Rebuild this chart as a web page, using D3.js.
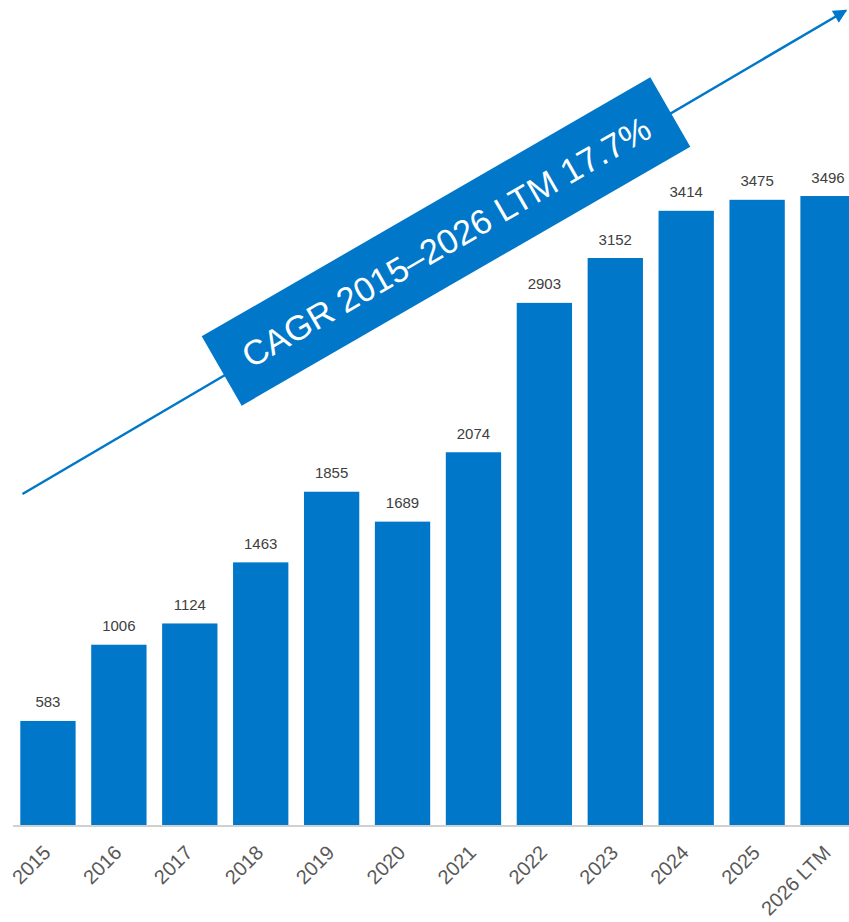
<!DOCTYPE html>
<html>
<head>
<meta charset="utf-8">
<script src="https://cdn.jsdelivr.net/npm/d3@7"></script>
<style>
  html, body { margin: 0; padding: 0; background: #ffffff; overflow: hidden; }
  svg { display: block; }
</style>
</head>
<body>
<svg id="chart" width="849" height="922"></svg>
<script>
const categories = ["2015","2016","2017","2018","2019","2020","2021","2022","2023","2024","2025","2026 LTM"];
const values = [583, 1006, 1124, 1463, 1855, 1689, 2074, 2903, 3152, 3414, 3475, 3496];
const annotationText = "CAGR 2015\u20132026 LTM 17.7%";

const BLUE = "#0077C8";
const FONT = "'Liberation Sans', Arial, sans-serif";
const svg = d3.select("#chart");
const W = 849, H = 922;

const x = d3.scaleBand().domain(categories).range([12.5, 863.5]).paddingInner(0.22).paddingOuter(0.11);
const y = d3.scaleLinear().domain([0, 3500]).range([826, 195.3]);

// bars
svg.append("g").selectAll("rect").data(categories).join("rect")
  .attr("x", d => x(d))
  .attr("y", (d, i) => y(values[i]))
  .attr("width", x.bandwidth())
  .attr("height", (d, i) => y(0) - y(values[i]))
  .attr("fill", BLUE);

// value labels
svg.append("g").selectAll("text").data(categories).join("text")
  .attr("x", d => x(d) + x.bandwidth() / 2)
  .attr("y", (d, i) => y(values[i]) - 13.5)
  .attr("text-anchor", "middle")
  .attr("font-family", FONT)
  .attr("font-size", 15)
  .attr("fill", "#404040")
  .text((d, i) => values[i]);

// x axis
const xAxis = d3.axisBottom(x).tickSize(0).tickPadding(0);
const gx = svg.append("g").attr("transform", `translate(0,${y(0)})`).call(xAxis);
gx.select(".domain").attr("d", `M13,0H${W}`).attr("stroke", "#d0d0d0").attr("stroke-width", 2);
gx.selectAll(".tick text")
  .attr("font-family", FONT)
  .attr("font-size", 20)
  .attr("fill", "#595959")
  .attr("text-anchor", "end")
  .attr("dy", null)
  .attr("y", 0)
  .attr("transform", "translate(4,28) rotate(-45)");

// arrow
const defs = svg.append("defs");
defs.append("marker")
  .attr("id", "ah").attr("viewBox", "0 0 10 10")
  .attr("refX", 9).attr("refY", 5)
  .attr("markerWidth", 6).attr("markerHeight", 5.5)
  .attr("markerUnits", "strokeWidth")
  .attr("orient", "auto")
  .append("path").attr("d", "M0,0 L10,5 L0,10 z").attr("fill", BLUE);

svg.append("line")
  .attr("x1", 22.5).attr("y1", 494)
  .attr("x2", 846).attr("y2", 10.5)
  .attr("stroke", BLUE).attr("stroke-width", 2.5)
  .attr("marker-end", "url(#ah)");

// annotation box
const box = svg.append("g").attr("transform", "translate(446,241.5) rotate(-30)");
box.append("rect")
  .attr("x", -259).attr("y", -40)
  .attr("width", 518).attr("height", 80)
  .attr("fill", BLUE);
box.append("text")
  .attr("x", 0).attr("y", 12.5)
  .attr("text-anchor", "middle")
  .attr("font-family", FONT)
  .attr("font-size", 34.5)
  .attr("fill", "#ffffff")
  .text(annotationText);
</script>
</body>
</html>
